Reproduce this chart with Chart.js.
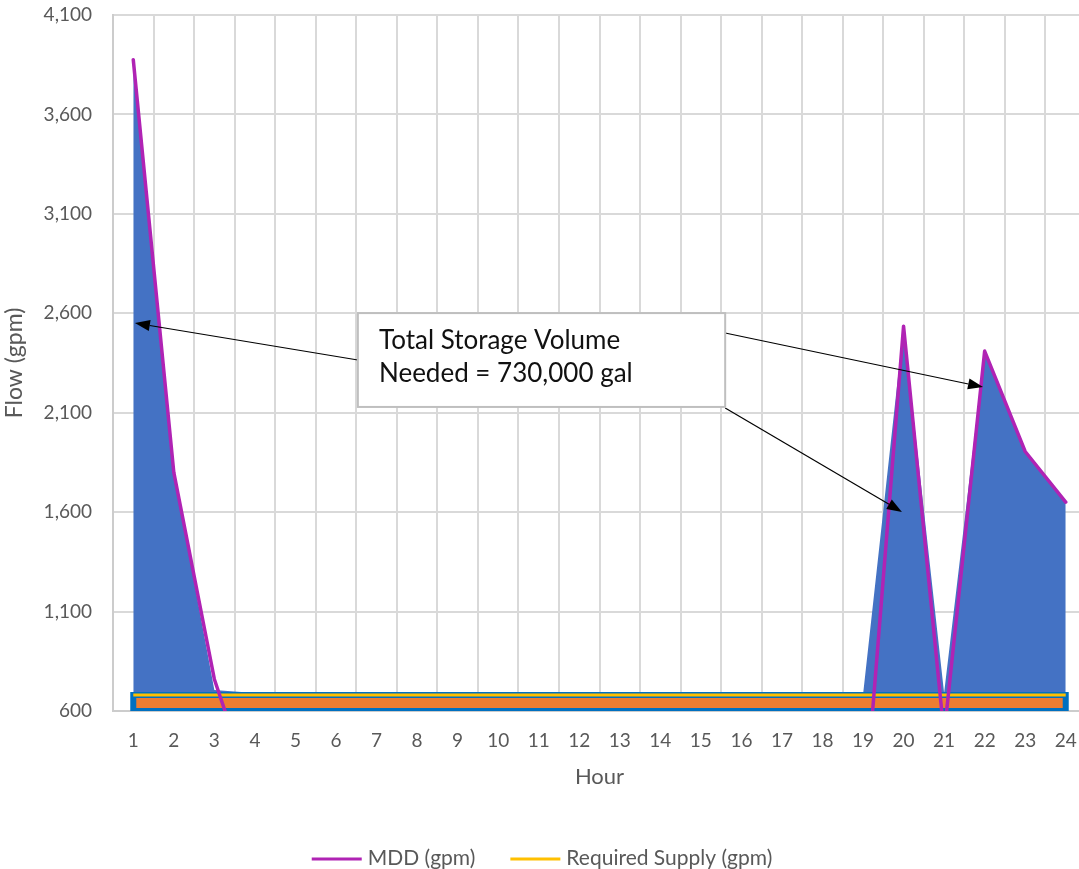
<!DOCTYPE html>
<html>
<head>
<meta charset="utf-8">
<script src="https://cdn.jsdelivr.net/npm/chart.js@4.4.1/dist/chart.umd.min.js"></script>
<style>
  html, body { margin: 0; padding: 0; background: #ffffff; overflow: hidden; }
  canvas { display: block; }
</style>
</head>
<body>
<canvas id="chart" width="1100" height="869"></canvas>
<script>
// ---------- data ----------
const hours = ['1','2','3','4','5','6','7','8','9','10','11','12','13','14','15','16','17','18','19','20','21','22','23','24'];
const mddGpm = [3875, 1800, 760, 150, 0, 0, 0, 0, 0, 0, 0, 0, 0, 0, 0, 0, 0, 0, 0, 2535, 480, 2410, 1905, 1650];
const storageGpm = [3875, 1800, 705, 690, 682, 682, 682, 682, 682, 682, 682, 682, 682, 682, 682, 682, 682, 682, 682, 2535, 690, 2410, 1905, 1650];
const requiredSupplyGpm = [680, 680, 680, 680, 680, 680, 680, 680, 680, 680, 680, 680, 680, 680, 680, 680, 680, 680, 680, 680, 680, 680, 680, 680];
const yTicks = [600, 1100, 1600, 2100, 2600, 3100, 3600, 4100];
const noteLines = ['Total Storage Volume', 'Needed = 730,000 gal'];

// annotation placement in data units (hour, gpm)
const noteBox = { x0: 6.54, x1: 15.60, yTop: 2601, yBottom: 2129, textX: 7.06, baselines: [2420, 2254] };
const noteArrows = [
  { from: [6.54, 2365], to: [1.04, 2551] },
  { from: [15.60, 2501], to: [21.96, 2229] },
  { from: [15.60, 2124], to: [19.96, 1601] }
];

const FONT = 'Lato, "Open Sans", sans-serif';
const GREY_TEXT = '#595959';
const yMin = yTicks[0];
const yMax = yTicks[yTicks.length - 1];

// supply band polygon built from the supply series and the axis floor
const bandPoints = requiredSupplyGpm.map((v, i) => ({ x: i + 1, y: v }))
  .concat([{ x: hours.length, y: yMin }, { x: 1, y: yMin }, { x: 1, y: requiredSupplyGpm[0] }]);

// ---------- plugins ----------
const notePlugin = {
  id: 'noteBox',
  afterDatasetsDraw(chart) {
    const ctx = chart.ctx;
    const xs = chart.scales.x2, ys = chart.scales.y;
    ctx.save();
    noteArrows.forEach(a => {
      const x0 = xs.getPixelForValue(a.from[0]), y0 = ys.getPixelForValue(a.from[1]);
      const x1 = xs.getPixelForValue(a.to[0]), y1 = ys.getPixelForValue(a.to[1]);
      const ang = Math.atan2(y1 - y0, x1 - x0);
      const L = 15, W = 5.5;
      const bx = x1 - L * Math.cos(ang), by = y1 - L * Math.sin(ang);
      ctx.strokeStyle = '#000000';
      ctx.lineWidth = 1.2;
      ctx.beginPath(); ctx.moveTo(x0, y0); ctx.lineTo(bx, by); ctx.stroke();
      ctx.fillStyle = '#000000';
      ctx.beginPath();
      ctx.moveTo(x1, y1);
      ctx.lineTo(bx + W * Math.sin(ang), by - W * Math.cos(ang));
      ctx.lineTo(bx - W * Math.sin(ang), by + W * Math.cos(ang));
      ctx.closePath(); ctx.fill();
    });
    const left = xs.getPixelForValue(noteBox.x0), right = xs.getPixelForValue(noteBox.x1);
    const top = ys.getPixelForValue(noteBox.yTop), bottom = ys.getPixelForValue(noteBox.yBottom);
    ctx.fillStyle = '#ffffff';
    ctx.fillRect(left, top, right - left, bottom - top);
    ctx.strokeStyle = '#BFBFBF';
    ctx.lineWidth = 2;
    ctx.strokeRect(left, top, right - left, bottom - top);
    ctx.fillStyle = '#111111';
    ctx.font = '26px ' + FONT;
    ctx.textAlign = 'left';
    ctx.textBaseline = 'alphabetic';
    const tx = xs.getPixelForValue(noteBox.textX);
    noteLines.forEach((t, i) => ctx.fillText(t, tx, ys.getPixelForValue(noteBox.baselines[i])));
    ctx.restore();
  }
};

const legendPlugin = {
  id: 'bottomLegend',
  afterDraw(chart) {
    const ctx = chart.ctx;
    const items = chart.data.datasets.filter(d => d.inLegend).map(d => ({ text: d.label, color: d.borderColor }));
    const lineLen = 50, gapText = 6, gapItem = 35, cy = 859, cx = 542;
    ctx.save();
    ctx.font = '21px ' + FONT;
    const widths = items.map(it => lineLen + gapText + ctx.measureText(it.text).width);
    const total = widths.reduce((s, w) => s + w, 0) + gapItem * (items.length - 1);
    let x = cx - total / 2;
    items.forEach((it, i) => {
      ctx.strokeStyle = it.color;
      ctx.lineWidth = 3;
      ctx.beginPath(); ctx.moveTo(x, cy); ctx.lineTo(x + lineLen, cy); ctx.stroke();
      ctx.fillStyle = GREY_TEXT;
      ctx.textAlign = 'left';
      ctx.textBaseline = 'middle';
      ctx.fillText(it.text, x + lineLen + gapText, cy - 1);
      x += widths[i] + gapItem;
    });
    ctx.restore();
  }
};

// ---------- chart ----------
new Chart(document.getElementById('chart'), {
  type: 'line',
  data: {
    labels: hours,
    datasets: [
      {
        label: 'MDD (gpm)', inLegend: true, data: mddGpm, xAxisID: 'x', order: 0,
        borderColor: '#B023B4', backgroundColor: '#B023B4', borderWidth: 3.5,
        borderCapStyle: 'round', borderJoinStyle: 'round',
        pointRadius: 0, fill: false, tension: 0
      },
      {
        label: 'Required Supply (gpm)', inLegend: true, data: requiredSupplyGpm, xAxisID: 'x', order: 1,
        borderColor: '#FFC000', backgroundColor: '#FFC000', borderWidth: 3,
        pointRadius: 0, fill: false, tension: 0
      },
      {
        label: 'Supply band', inLegend: false, data: bandPoints, xAxisID: 'x2', order: 2,
        borderColor: '#0070C0', backgroundColor: '#ED7D31', borderWidth: 6,
        borderJoinStyle: 'miter', borderCapStyle: 'square',
        pointRadius: 0, fill: 'shape', tension: 0
      },
      {
        label: 'Storage', inLegend: false, data: storageGpm, xAxisID: 'x', order: 3,
        borderColor: '#4472C4', backgroundColor: '#4472C4', borderWidth: 0,
        pointRadius: 0, fill: 'start', tension: 0
      }
    ]
  },
  options: {
    responsive: false,
    animation: false,
    devicePixelRatio: 1,
    layout: { padding: { top: 15, right: 14, left: 0, bottom: 0 } },
    plugins: { legend: { display: false }, tooltip: { enabled: false } },
    scales: {
      x: {
        type: 'category',
        offset: true,
        grid: { offset: true, color: '#D9D9D9', lineWidth: 2, drawTicks: false },
        border: { color: '#CCCCCC', width: 2 },
        ticks: { color: GREY_TEXT, font: { family: FONT, size: 19 }, padding: 18, maxRotation: 0, autoSkip: false },
        title: { display: true, text: 'Hour', color: GREY_TEXT, font: { family: FONT, size: 22 }, padding: { top: 0, bottom: 79 } },
        afterFit(scale) { scale.height = 158; }
      },
      x2: {
        type: 'linear', display: false, min: 0.5, max: hours.length + 0.5, position: 'bottom'
      },
      y: {
        min: yMin, max: yMax,
        grid: { color: '#D9D9D9', lineWidth: 2, drawTicks: true, tickLength: 18, tickColor: 'rgba(0,0,0,0)' },
        border: { color: '#CCCCCC', width: 2 },
        ticks: {
          stepSize: yTicks[1] - yTicks[0], color: GREY_TEXT, padding: 3,
          font: { family: FONT, size: 19 },
          callback: v => Number(v).toLocaleString('en-US')
        },
        title: { display: true, text: 'Flow (gpm)', color: GREY_TEXT, font: { family: FONT, size: 23 }, padding: { top: 1, bottom: 0 } },
        afterFit(scale) { scale.width = 113; }
      }
    }
  },
  plugins: [notePlugin, legendPlugin]
});
</script>
</body>
</html>
